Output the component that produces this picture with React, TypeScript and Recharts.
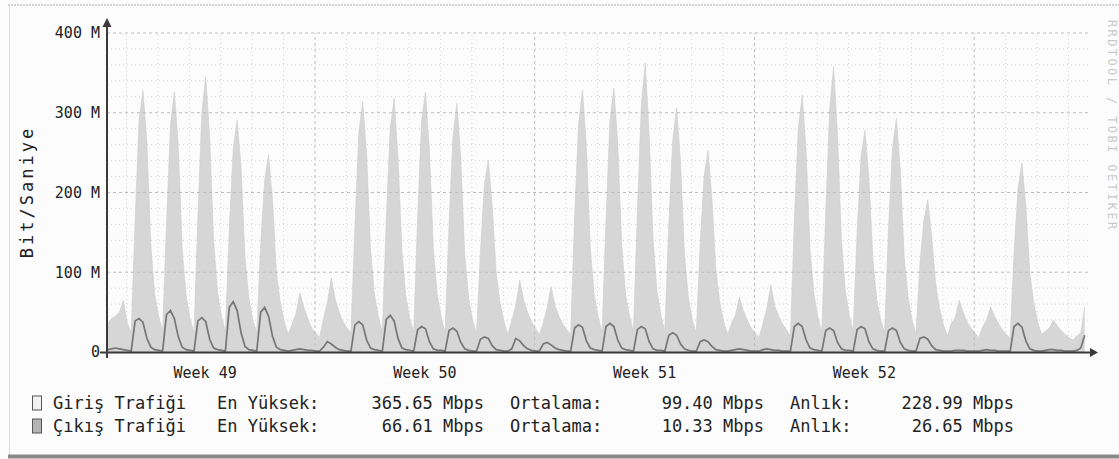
import React from 'react';
import { ComposedChart, Area, Line, XAxis, YAxis, ReferenceLine } from 'recharts';

// Sampling: one value every 3 hours, starting 0.5 h after graph start (hours)
const sampleStartHour = 0.5;
const sampleStepHours = 3;

// Inbound traffic (Mbit/s)
const inboundPart1 = [
  35, 42, 45, 50, 65, 36, 24, 165,
  290, 328, 262, 135, 72, 45, 26, 160,
  285, 326, 258, 128, 70, 42, 24, 170,
  300, 345, 268, 140, 75, 45, 26, 155,
  255, 291, 232, 118, 68, 40, 24, 135,
  215, 247, 192, 100, 62, 38, 22, 35,
  48, 74, 56, 42, 30, 24, 18, 42,
];
const inboundPart2 = [
  62, 93, 66, 50, 38, 30, 24, 155,
  275, 314, 248, 128, 72, 44, 25, 165,
  280, 318, 244, 126, 70, 42, 24, 170,
  290, 326, 252, 130, 72, 43, 24, 160,
  270, 312, 242, 122, 68, 40, 23, 125,
  210, 241, 182, 100, 62, 38, 22, 40,
  58, 90, 66, 50, 38, 30, 22, 36,
];
const inboundPart3 = [
  55, 82, 58, 45, 35, 28, 22, 170,
  285, 328, 258, 130, 72, 44, 25, 165,
  290, 331, 262, 134, 72, 45, 26, 175,
  310, 362, 272, 140, 76, 46, 26, 160,
  265, 306, 238, 122, 68, 40, 24, 135,
  220, 253, 192, 104, 62, 38, 22, 36,
  46, 69, 52, 40, 30, 24, 18, 36,
];
const inboundPart4 = [
  55, 84, 58, 45, 35, 28, 20, 165,
  280, 322, 252, 128, 72, 44, 25, 175,
  305, 358, 272, 140, 76, 46, 26, 150,
  245, 278, 218, 118, 66, 40, 24, 155,
  255, 293, 228, 118, 68, 40, 23, 110,
  165, 191, 145, 86, 55, 34, 20, 36,
  43, 65, 50, 38, 30, 24, 18, 32,
];
const inboundPart5 = [
  40, 57, 45, 36, 28, 22, 18, 125,
  205, 237, 182, 100, 62, 38, 22, 26,
  30, 40, 33, 27, 22, 18, 15, 20,
  24, 57,
];

// Outbound traffic (Mbit/s)
const outboundPart1 = [
  3, 4, 5, 4, 3, 2, 1, 39,
  42, 37, 17, 6, 3, 2, 1, 47,
  52, 42, 19, 6, 3, 2, 1, 39,
  43, 38, 16, 5, 3, 2, 1, 56,
  63, 52, 24, 7, 3, 2, 1, 50,
  56, 45, 20, 6, 3, 2, 1, 2,
  3, 4, 3, 2, 2, 1, 1, 6,
];
const outboundPart2 = [
  13, 10, 6, 3, 2, 1, 1, 34,
  38, 34, 15, 5, 3, 2, 1, 41,
  46, 39, 17, 5, 3, 2, 1, 28,
  32, 29, 13, 4, 2, 2, 1, 27,
  30, 26, 12, 4, 2, 1, 1, 16,
  19, 17, 8, 3, 2, 1, 1, 4,
  17, 14, 8, 4, 2, 1, 1, 10,
];
const outboundPart3 = [
  12, 9, 5, 3, 2, 1, 1, 30,
  34, 31, 14, 5, 3, 2, 1, 32,
  36, 32, 15, 5, 3, 2, 1, 28,
  32, 29, 13, 4, 2, 2, 1, 21,
  24, 21, 10, 4, 2, 1, 1, 13,
  15, 13, 7, 3, 2, 1, 1, 2,
  3, 4, 3, 2, 1, 1, 1, 3,
];
const outboundPart4 = [
  4, 3, 2, 2, 1, 1, 1, 32,
  36, 32, 15, 5, 3, 2, 1, 27,
  30, 27, 12, 4, 2, 2, 1, 28,
  32, 29, 13, 4, 2, 1, 1, 27,
  30, 27, 12, 4, 2, 1, 1, 17,
  19, 16, 8, 3, 2, 1, 1, 1,
  2, 2, 2, 1, 1, 1, 1, 2,
];
const outboundPart5 = [
  3, 2, 2, 1, 1, 1, 1, 32,
  36, 31, 14, 4, 2, 1, 1, 2,
  3, 3, 2, 2, 1, 1, 1, 2,
  5, 21,
];

// Axis definitions
const xDomain = [0, 750];
const weekStarts = [159, 327, 495, 663];
const weekLabelHours = [75, 243, 411, 579];
const weekLabels = ['Week 49', 'Week 50', 'Week 51', 'Week 52'];
const yTicks = [0, 100, 200, 300, 400];
const yTickLabels = ['0', '100 M', '200 M', '300 M', '400 M'];

// Legend
const legendNames = ['Giriş Trafiği', 'Çıkış Trafiği'];
const legendMax = ['365.65 Mbps', '66.61 Mbps'];
const legendAvg = ['99.40 Mbps', '10.33 Mbps'];
const legendNow = ['228.99 Mbps', '26.65 Mbps'];

const inbound = [...inboundPart1, ...inboundPart2, ...inboundPart3, ...inboundPart4, ...inboundPart5];
const outbound = [...outboundPart1, ...outboundPart2, ...outboundPart3, ...outboundPart4, ...outboundPart5];
const data = inbound.map((v, i) => ({
  t: sampleStartHour + i * sampleStepHours,
  inb: v,
  outb: outbound[i],
}));

const dayLines: number[] = [];
for (let h = weekStarts[0] % 24; h < xDomain[1]; h += 24) {
  if (!weekStarts.includes(h)) dayLines.push(h);
}
const minorY: number[] = [];
for (let v = 20; v < 400; v += 20) if (v % 100 !== 0) minorY.push(v);
const majorY = [100, 200, 300, 400];

const MONO = "'DejaVu Sans Mono', monospace";

export default function App() {
  return (
    <div style={{ position: 'absolute', left: 0, top: 0, width: 1119, height: 459, background: '#fcfcfc', overflow: 'hidden' }}>
      <ComposedChart
        width={1119}
        height={459}
        data={data}
        margin={{ top: 33, right: 31, bottom: 77, left: 47 }}
      >
        <XAxis
          dataKey="t"
          type="number"
          domain={xDomain}
          ticks={weekLabelHours}
          tickFormatter={(v: number) => weekLabels[weekLabelHours.indexOf(v)] ?? ''}
          axisLine={false}
          tickLine={false}
          tickSize={8}
          tickMargin={7}
          height={30}
          tick={{ fontFamily: MONO, fontSize: 15, fill: '#222' }}
          allowDataOverflow
        />
        <YAxis
          type="number"
          domain={[0, 400]}
          ticks={yTicks}
          tickFormatter={(v: number) => yTickLabels[yTicks.indexOf(v)] ?? ''}
          axisLine={false}
          tickLine={false}
          tickSize={0}
          tickMargin={7}
          width={60}
          tick={{ fontFamily: MONO, fontSize: 15, fill: '#222' }}
        />
        <Area
          type="linear"
          dataKey="inb"
          fill="#d6d6d6"
          fillOpacity={1}
          stroke="#cdcdcd"
          strokeWidth={0.6}
          isAnimationActive={false}
          dot={false}
          activeDot={false}
        />
        {minorY.map((v) => (
          <ReferenceLine key={'my' + v} y={v} stroke="#d4d4d4" strokeDasharray="1 3" />
        ))}
        {majorY.map((v) => (
          <ReferenceLine key={'My' + v} y={v} stroke="#bdbdbd" strokeDasharray="3 3" />
        ))}
        {dayLines.map((h) => (
          <ReferenceLine key={'dx' + h} x={h} stroke="#d4d4d4" strokeDasharray="1 3" />
        ))}
        {weekStarts.map((h) => (
          <ReferenceLine key={'wx' + h} x={h} stroke="#bdbdbd" strokeDasharray="3 3" />
        ))}
        <Line
          type="linear"
          dataKey="outb"
          stroke="#767676"
          strokeWidth={1.7}
          dot={false}
          activeDot={false}
          isAnimationActive={false}
        />
      </ComposedChart>
      <svg
        width={1119}
        height={459}
        style={{ position: 'absolute', left: 0, top: 0, pointerEvents: 'none' }}
      >
        {/* frame */}
        <line x1={8} y1={5} x2={1119} y2={5} stroke="#c4c4c4" strokeWidth={1.5} strokeDasharray="2 1" />
        <line x1={9.5} y1={5} x2={9.5} y2={455} stroke="#dddddd" strokeWidth={1} />
        <line x1={8} y1={456.5} x2={1119} y2={456.5} stroke="#8a8a8a" strokeWidth={4} />
        {/* axes */}
        <line x1={100} y1={352.5} x2={1091} y2={352.5} stroke="#3a3a3a" strokeWidth={2} />
        <polygon points="1090,348 1098,352.5 1090,357" fill="#3a3a3a" />
        <line x1={107} y1={358} x2={107} y2={26} stroke="#3a3a3a" strokeWidth={2} />
        <polygon points="102.5,27 107,18 111.5,27" fill="#3a3a3a" />
        {/* axis title */}
        <text
          transform="translate(33,192) rotate(-90)"
          textAnchor="middle"
          fontFamily={MONO}
          fontSize={17}
          letterSpacing={3}
          fill="#222"
        >
          Bit/Saniye
        </text>
        <text
          transform="translate(1108,20) rotate(90)"
          textAnchor="start"
          fontFamily={MONO}
          fontSize={12}
          letterSpacing={2.4}
          fill="#cacaca"
        >
          RRDTOOL / TOBI OETIKER
        </text>
        {/* legend */}
        {legendNames.map((name, i) => {
          const y = 409 + i * 23;
          return (
            <g key={name} fontFamily={MONO} fontSize={17} fill="#222">
              <rect x={32.5} y={y - 13} width={9} height={14} fill={i === 0 ? '#f2f2f2' : '#b4b4b4'} stroke="#555" strokeWidth={1} />
              <text x={53} y={y}>{name}</text>
              <text x={217} y={y}>En Yüksek:</text>
              <text x={484} y={y} textAnchor="end">{legendMax[i]}</text>
              <text x={510} y={y}>Ortalama:</text>
              <text x={764} y={y} textAnchor="end">{legendAvg[i]}</text>
              <text x={790} y={y}>Anlık:</text>
              <text x={1014} y={y} textAnchor="end">{legendNow[i]}</text>
            </g>
          );
        })}
      </svg>
    </div>
  );
}
